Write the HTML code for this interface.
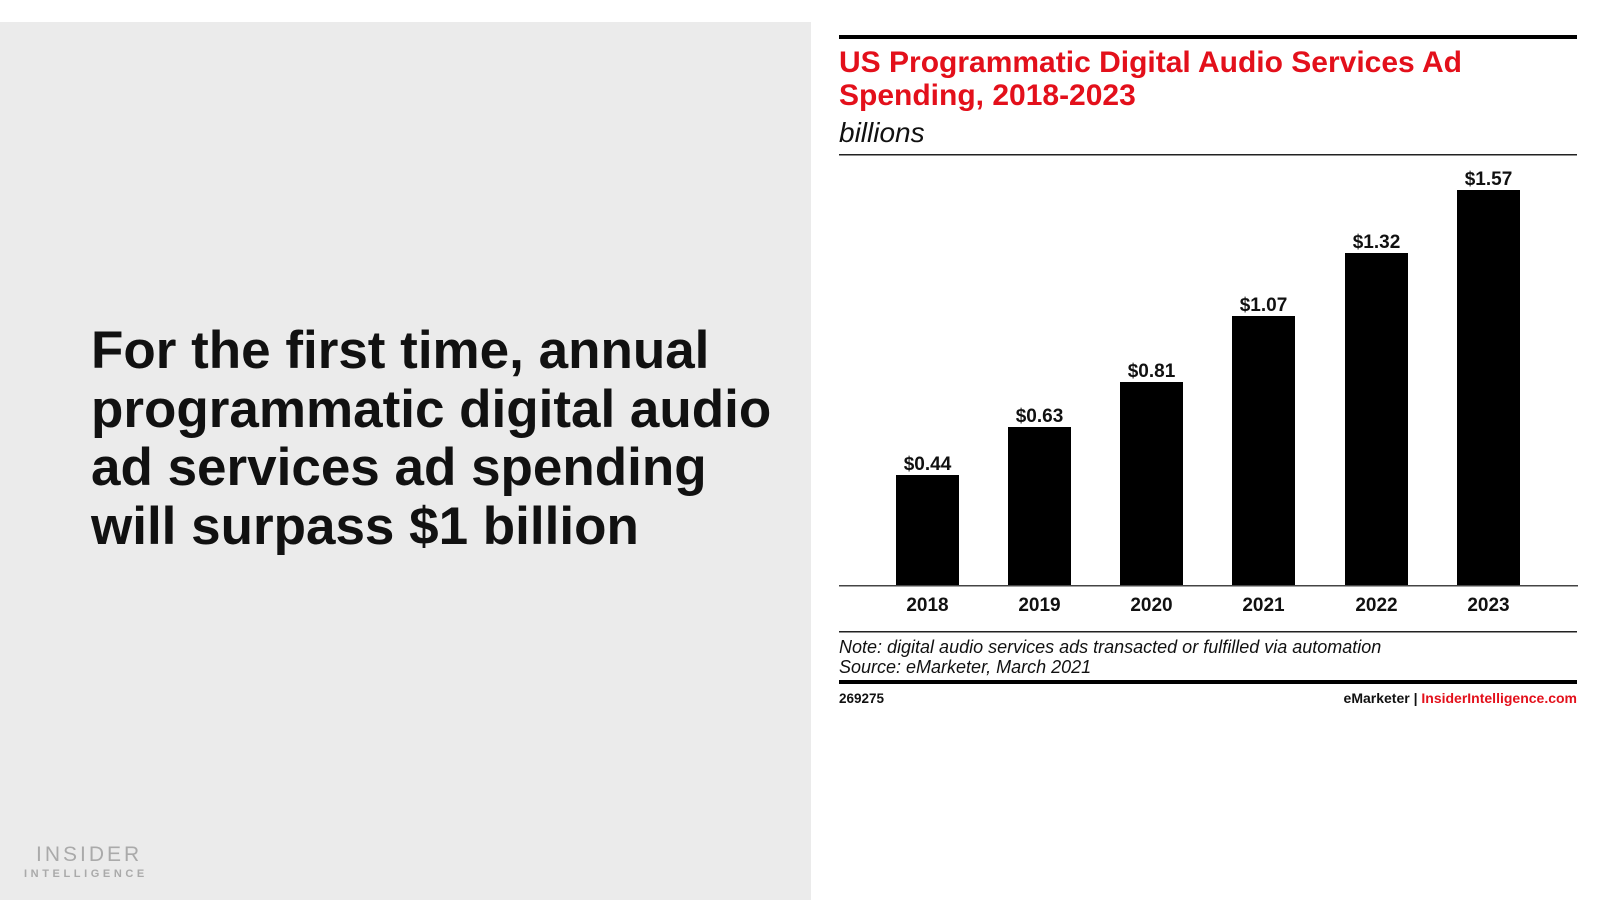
<!DOCTYPE html>
<html><head><meta charset="utf-8"><style>
body{margin:0;width:1600px;height:900px;background:#fff;position:relative;overflow:hidden;font-family:"Liberation Sans",Arial,sans-serif}
.gray{position:absolute;left:0;top:22px;width:811px;height:878px;background:#ebebeb}
.big{position:absolute;left:91px;top:322px;font-size:53px;font-weight:bold;line-height:58.7px;color:#111}
.logo1{position:absolute;left:36px;top:843px;font-size:21px;letter-spacing:3px;color:#aaa}
.logo2{position:absolute;left:24px;top:868px;font-size:11px;letter-spacing:3.6px;color:#aaa;font-weight:bold}
</style></head><body>
<div class="gray"></div>
<div class="big">For the first time, annual<br>programmatic digital audio<br>ad services ad spending<br>will surpass $1 billion</div>
<div class="logo1">INSIDER</div>
<div class="logo2">INTELLIGENCE</div>
<svg width="1600" height="900" style="position:absolute;left:0;top:0" font-family="Liberation Sans, Arial, sans-serif">
<rect x="839" y="35" width="738" height="4" fill="#000"/>
<text x="839" y="72" font-size="30" font-weight="bold" fill="#e3101b">US Programmatic Digital Audio Services Ad</text>
<text x="839" y="105" font-size="30" font-weight="bold" fill="#e3101b">Spending, 2018-2023</text>
<text x="839" y="142" font-size="28" font-style="italic" fill="#111">billions</text>
<rect x="839" y="154" width="738" height="1.5" fill="#222"/>
<g fill="#000">
<rect x="896" y="475" width="63" height="111"/>
<rect x="1008" y="427" width="63" height="159"/>
<rect x="1120" y="382" width="63" height="204"/>
<rect x="1232" y="316" width="63" height="270"/>
<rect x="1345" y="253" width="63" height="333"/>
<rect x="1457" y="190" width="63" height="396"/>
</g>
<g font-size="19" font-weight="bold" text-anchor="middle" fill="#111">
<text x="927.5" y="470">$0.44</text>
<text x="1039.5" y="422">$0.63</text>
<text x="1151.5" y="377">$0.81</text>
<text x="1263.5" y="311">$1.07</text>
<text x="1376.5" y="248">$1.32</text>
<text x="1488.5" y="185">$1.57</text>
<text x="927.5" y="611">2018</text>
<text x="1039.5" y="611">2019</text>
<text x="1151.5" y="611">2020</text>
<text x="1263.5" y="611">2021</text>
<text x="1376.5" y="611">2022</text>
<text x="1488.5" y="611">2023</text>
</g>
<rect x="839" y="585" width="739" height="1.5" fill="#444"/>
<rect x="839" y="631" width="738" height="1.5" fill="#222"/>
<text x="839" y="653" font-size="18" font-style="italic" fill="#111">Note: digital audio services ads transacted or fulfilled via automation</text>
<text x="839" y="673" font-size="18" font-style="italic" fill="#111">Source: eMarketer, March 2021</text>
<rect x="839" y="680" width="738" height="4" fill="#000"/>
<text x="839" y="703" font-size="13.5" font-weight="bold" fill="#111">269275</text>
<text x="1577" y="703" font-size="14" font-weight="bold" text-anchor="end" fill="#111">eMarketer  |  <tspan fill="#e3101b">InsiderIntelligence.com</tspan></text>
</svg>
</body></html>
